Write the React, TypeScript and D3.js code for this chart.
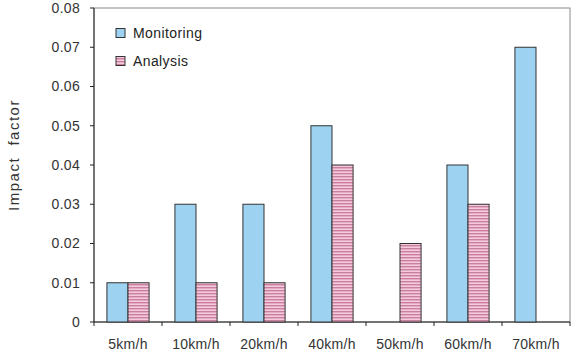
import React from 'react';
import * as d3 from 'd3';

const categories = ['5km/h', '10km/h', '20km/h', '40km/h', '50km/h', '60km/h', '70km/h'];
const seriesNames = ['Monitoring', 'Analysis'];
const monitoring = [0.01, 0.03, 0.03, 0.05, 0, 0.04, 0.07];
const analysis = [0.01, 0.01, 0.01, 0.04, 0.02, 0.03, 0];
const yTicks = [0, 0.01, 0.02, 0.03, 0.04, 0.05, 0.06, 0.07, 0.08];

const width = 582;
const height = 363;
const margin = { top: 8, right: 12, bottom: 41, left: 94 };

export default function App() {
  const innerW = width - margin.left - margin.right;
  const innerH = height - margin.top - margin.bottom;

  // ticks sit on category boundaries, so outer padding is half the inner one
  const x = d3.scaleBand<string>().domain(categories).range([0, innerW])
    .paddingInner(0.38).paddingOuter(0.19);
  const xs = d3.scaleBand<string>().domain(seriesNames).range([0, x.bandwidth()]);
  const y = d3.scaleLinear().domain([0, 0.08]).range([innerH, 0]);

  const values = [monitoring, analysis];
  const fills = ['#9dd2f0', 'url(#stripes)'];
  const step = x.step();
  const font = 'Arial, "Liberation Sans", sans-serif';

  return (
    <svg width={width} height={height} style={{ position: 'absolute', left: 0, top: 0, background: '#fff' }}>
      <defs>
        <pattern id="stripes" width="4" height="3" patternUnits="userSpaceOnUse">
          <rect width="4" height="3" fill="#f6cadd" />
          <rect width="4" height="1.4" fill="#c9809f" />
        </pattern>
      </defs>
      <g transform={`translate(${margin.left},${margin.top})`} fontFamily={font}>
        {/* plot frame */}
        <rect x={0} y={0} width={innerW} height={innerH} fill="none" stroke="#8a8a8a" strokeWidth={1} />
        <line x1={0} x2={0} y1={0} y2={innerH} stroke="#222" />
        <line x1={0} x2={innerW} y1={innerH} y2={innerH} stroke="#222" />

        {/* bars */}
        {values.map((vals, si) =>
          categories.map((c, i) =>
            vals[i] > 0 ? (
              <rect
                key={`${si}-${c}`}
                x={(x(c) ?? 0) + (xs(seriesNames[si]) ?? 0)}
                y={y(vals[i])}
                width={xs.bandwidth()}
                height={innerH - y(vals[i])}
                fill={fills[si]}
                stroke="#333"
                strokeWidth={1}
              />
            ) : null
          )
        )}

        {/* y ticks */}
        {yTicks.map(t => (
          <g key={t} transform={`translate(0,${y(t)})`}>
            <line x1={-4} x2={0} stroke="#222" />
            <text x={-14} dy="0.35em" textAnchor="end" fontSize={14} letterSpacing={0.3} fill="#333">
              {t === 0 ? '0' : d3.format('.2f')(t)}
            </text>
          </g>
        ))}

        {/* x ticks at category boundaries */}
        {d3.range(categories.length + 1).map(i => (
          <line key={i} x1={i * step} x2={i * step} y1={innerH} y2={innerH + 4} stroke="#222" />
        ))}
        {categories.map(c => (
          <text
            key={c}
            x={(x(c) ?? 0) + x.bandwidth() / 2}
            y={innerH + 27}
            textAnchor="middle"
            fontSize={14}
            letterSpacing={0.3}
            fill="#333"
          >
            {c}
          </text>
        ))}

        {/* legend */}
        {seriesNames.map((s, i) => (
          <g key={s} transform={`translate(22,${25 + i * 28})`}>
            <rect x={0} y={-4.5} width={9} height={9} fill={fills[i]} stroke="#333" strokeWidth={1} />
            <text x={17} dy="0.35em" fontSize={14} letterSpacing={0.4} fill="#222">{s}</text>
          </g>
        ))}
      </g>
      <text
        transform={`translate(19,155) rotate(-90)`}
        textAnchor="middle"
        fontSize={15}
        letterSpacing={1.5}
        fill="#333"
        fontFamily={font}
        style={{ whiteSpace: 'pre' }}
      >
        Impact  factor
      </text>
    </svg>
  );
}
